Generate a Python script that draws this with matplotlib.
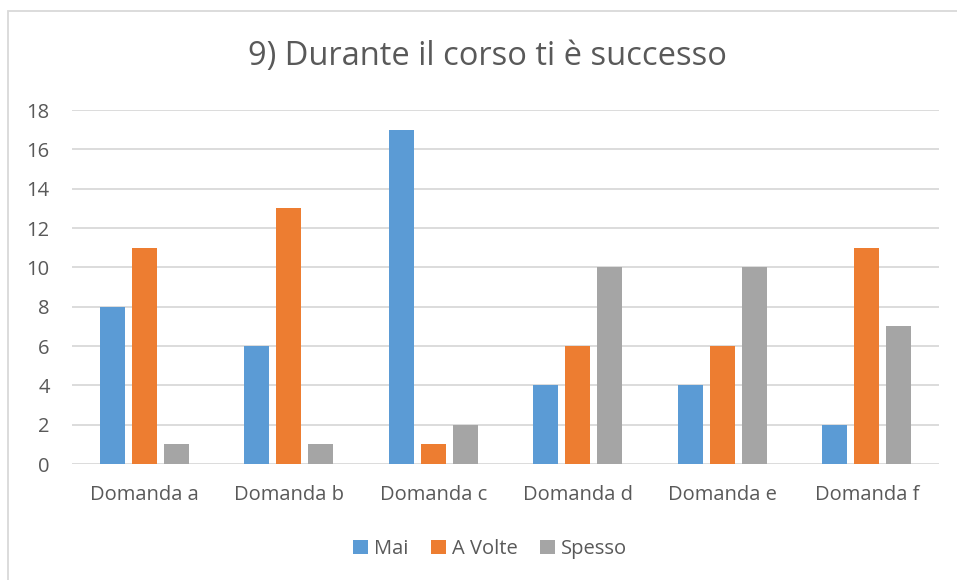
import matplotlib
matplotlib.use("Agg")
import matplotlib.pyplot as plt
from matplotlib.patches import Rectangle
import numpy as np

plt.rcParams["font.family"] = ["Open Sans", "DejaVu Sans"]

categories = ["Domanda a", "Domanda b", "Domanda c", "Domanda d", "Domanda e", "Domanda f"]
series_names = ["Mai", "A Volte", "Spesso"]
mai = [8, 6, 17, 4, 4, 2]
a_volte = [11, 13, 1, 6, 6, 11]
spesso = [1, 1, 2, 10, 10, 7]
y_ticks = [0, 2, 4, 6, 8, 10, 12, 14, 16, 18]

colors = ["#5B9BD5", "#ED7D31", "#A5A5A5"]
text_color = "#595959"
grid_color = "#D9D9D9"

W, H = 957, 580
fig = plt.figure(figsize=(W / 100, H / 100), dpi=100)
ax = fig.add_axes([72 / W, (H - 464) / H, (939 - 72) / W, (464 - 110) / H])

x = np.arange(len(categories))
pitch = 0.221
width = 0.173
for i, (vals, name) in enumerate(zip([mai, a_volte, spesso], series_names)):
    ax.bar(x + (i - 1) * pitch, vals, width=width, color=colors[i], label=name, zorder=3)

ax.set_xlim(-0.5, len(categories) - 0.5)
ax.set_ylim(0, 18)
ax.set_yticks(y_ticks)
ax.set_xticks(x)
ax.set_xticklabels(categories)
ax.grid(True, axis="y", color=grid_color, linewidth=1.3, zorder=0)
for s in ax.spines.values():
    s.set_visible(False)
ax.tick_params(length=0, labelsize=14.5, colors=text_color)
ax.tick_params(axis="x", pad=15)
ax.tick_params(axis="y", pad=16)

fig.text(487 / W, 1 - 57 / H, "9) Durante il corso ti è successo", ha="center", va="center",
         fontsize=23.5, color=text_color)

leg = fig.legend(loc="center", bbox_to_anchor=(490 / W, 1 - 549 / H), ncol=3, frameon=False,
                 fontsize=14.5, handlelength=0.75, handleheight=0.75, handletextpad=0.3,
                 columnspacing=1.1)
for t in leg.get_texts():
    t.set_color(text_color)

fig.add_artist(Rectangle((8 / W, -0.1), 2, (H - 11) / H + 0.1, transform=fig.transFigure,
                         fill=False, edgecolor=grid_color, linewidth=1.3))

fig.savefig("out.png", dpi=100)
